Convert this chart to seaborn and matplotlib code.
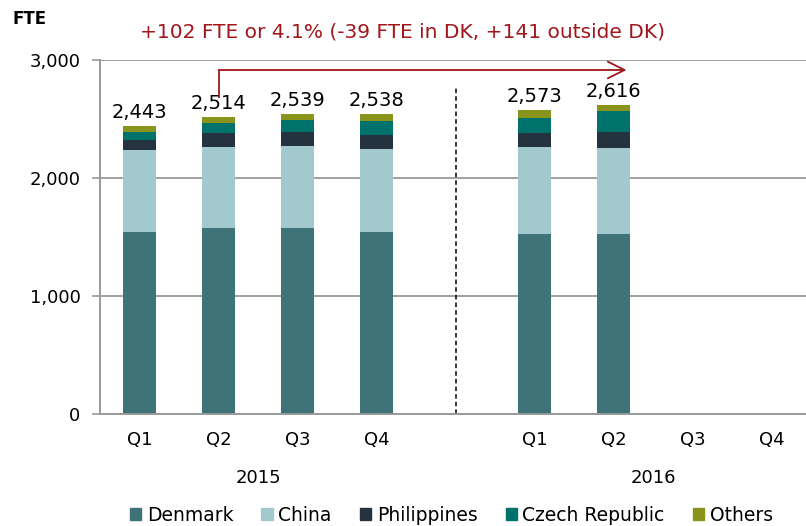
import matplotlib
matplotlib.use("Agg")
import numpy as np
import pandas as pd
import seaborn as sns
import matplotlib.pyplot as plt
from matplotlib.patches import Patch

# slots along the x axis (one empty slot between the years)
slots = ["2015Q1", "2015Q2", "2015Q3", "2015Q4", "gap",
         "2016Q1", "2016Q2", "2016Q3", "2016Q4"]
quarters = ["2015Q1", "2015Q2", "2015Q3", "2015Q4", "2016Q1", "2016Q2"]
tick_labels = ["Q1", "Q2", "Q3", "Q4", "", "Q1", "Q2", "Q3", "Q4"]
years = ["2015", "2016"]

series = ["Denmark", "China", "Philippines", "Czech Republic", "Others"]
denmark = [1543, 1574, 1573, 1542, 1528, 1528]
china = [692, 686, 695, 700, 731, 729]
philippines = [87, 119, 119, 119, 119, 130]
czech = [70, 87, 107, 119, 133, 181]
others = [51, 48, 45, 58, 62, 48]
totals = [2443, 2514, 2539, 2538, 2573, 2616]

colors = ["#3E7378", "#A2C9CE", "#24333F", "#00726C", "#8A941C"]

df = pd.DataFrame({"quarter": quarters, "Denmark": denmark, "China": china,
                   "Philippines": philippines, "Czech Republic": czech,
                   "Others": others})
cum = df[series].cumsum(axis=1)
cum["quarter"] = quarters

plt.rcParams["font.family"] = ["DejaVu Sans"]
fig = plt.figure(figsize=(8.06, 5.26), dpi=100)
ax = fig.add_axes([0.124, 0.213, 0.876, 0.673])

# stacked bars: draw cumulative heights from the top segment down
for name, col in reversed(list(zip(series, colors))):
    sns.barplot(data=cum, x="quarter", y=name, order=slots, color=col,
                width=0.42, saturation=1, linewidth=0, ax=ax)

for q, t in zip(quarters, totals):
    ax.text(slots.index(q), t + 35, f"{t:,}", ha="center", va="bottom",
            fontsize=14, color="black")

ax.set_xlim(-0.5, 8.43)
ax.set_ylim(0, 3000)
ax.set_yticks([0, 1000, 2000, 3000])
ax.set_yticklabels(["0", "1,000", "2,000", "3,000"], fontsize=13)
ax.set_xticks(range(len(slots)))
ax.set_xticklabels(tick_labels, fontsize=13)
ax.tick_params(axis="x", length=0, pad=12)
ax.tick_params(axis="y", length=6, color="#999999", width=1.2, pad=8)
ax.set_xlabel("")
ax.set_ylabel("")
ax.grid(axis="y", color="#A0A0A0", linewidth=1.4)
ax.set_axisbelow(True)
for s in ["top", "right"]:
    ax.spines[s].set_visible(False)
for s in ["left", "bottom"]:
    ax.spines[s].set_color("#999999")
    ax.spines[s].set_linewidth(1.4)

# year labels under the quarters
ax.text(1.5, -0.18, years[0], transform=ax.get_xaxis_transform(),
        ha="center", va="center", fontsize=13)
ax.text(6.5, -0.18, years[1], transform=ax.get_xaxis_transform(),
        ha="center", va="center", fontsize=13)

# dashed separator between years
ax.plot([4, 4], [0, 2760], color="black", linestyle=(0, (3, 2)), linewidth=1.1)

# change arrow
red = "#A0161C"
ax.plot([1, 1], [2680, 2915], color=red, linewidth=1.3, solid_capstyle="butt")
ax.annotate("", xy=(6.16, 2915), xytext=(1, 2915),
            arrowprops=dict(arrowstyle="->,head_length=1.2,head_width=0.6",
                            color=red, linewidth=1.3, shrinkA=0, shrinkB=0),
            annotation_clip=False)

fig.text(402 / 806, 1 - 32 / 526,
         "+102 FTE or 4.1% (-39 FTE in DK, +141 outside DK)",
         ha="center", va="center", fontsize=14.5, color=red)
fig.text(12 / 806, 1 - 19 / 526, "FTE", ha="left", va="center",
         fontsize=12, fontweight="bold")

handles = [Patch(color=c, label=n) for n, c in zip(series, colors)]
fig.legend(handles=handles, loc="lower center", ncol=5,
           bbox_to_anchor=(0.56, -0.03), frameon=False, fontsize=13.5,
           handlelength=0.6, handleheight=0.6, handletextpad=0.3,
           columnspacing=1.5)

fig.savefig("out.png", dpi=100)
